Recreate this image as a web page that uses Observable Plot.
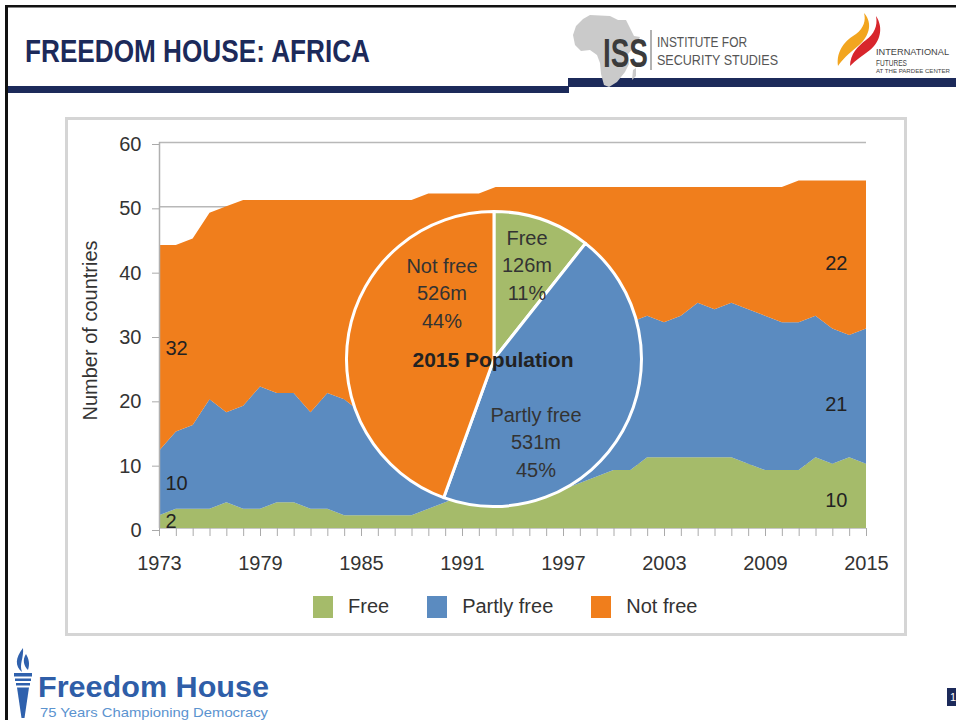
<!DOCTYPE html>
<html><head><meta charset="utf-8">
<script src="https://cdn.jsdelivr.net/npm/d3@7"></script>
<script src="https://cdn.jsdelivr.net/npm/@observablehq/plot@0.6"></script>
<style>
html,body{margin:0;padding:0;background:#fff;}
body{width:956px;height:720px;overflow:hidden;position:relative;font-family:"Liberation Sans",Arial,sans-serif;}
.abs{position:absolute;}
#panel{left:65px;top:117px;width:836px;height:513px;border:3px solid #d5d5d5;background:#fff;}
#chart{left:0;top:0;}
#legend{left:313px;top:590px;}
#legend .lg-swatches{margin:0 !important;font-size:20px !important;font-family:"Liberation Sans",Arial,sans-serif !important;color:#333;}
#legend .lg-swatch{margin-right:38px !important;}
#legend .lg-swatch > svg{margin-right:15px !important;}
</style></head><body>

<div class="abs" id="panel"></div>
<div class="abs" id="chart"></div>
<div class="abs" id="legend"></div>

<div class="abs" style="left:5px;top:5px;width:3px;height:715px;background:#111"></div>
<svg class="abs" style="left:0;top:0" width="956" height="110">
  <rect x="5" y="5" width="951" height="2.5" fill="#111"/>
  <text x="25" y="62" font-family="Liberation Sans, Arial, sans-serif" font-weight="bold" font-size="32" fill="#1c2a5a" textLength="345" lengthAdjust="spacingAndGlyphs">FREEDOM HOUSE: AFRICA</text>
  <rect x="8" y="86" width="561" height="7" fill="#1c2a5a"/>
  <rect x="568" y="78" width="388" height="9" fill="#1c2a5a"/>
  <!-- ISS logo -->
  <path d="M590,15 L610,16 L618,20 L626,20 L630,28 L634,36 L640,37 L636,45 L628,54 L629,64 L625,72 L617,82 L609,87 L604,85 L601,74 L600,63 L597,55 L590,50 L581,51 L575,45 L573,35 L576,26 L583,19 Z M633,70 L636,68 L636,76 L632,80 Z" fill="#cacaca"/>
  <text x="603" y="67" font-family="Liberation Sans, Arial, sans-serif" font-weight="bold" font-size="40" fill="#3b3b3b" textLength="45" lengthAdjust="spacingAndGlyphs">ISS</text>
  <line x1="651" y1="30" x2="651" y2="70" stroke="#999" stroke-width="1.5"/>
  <text x="657" y="47" font-family="Liberation Sans, Arial, sans-serif" font-size="15" fill="#555" textLength="90" lengthAdjust="spacingAndGlyphs">INSTITUTE FOR</text>
  <text x="657" y="64.5" font-family="Liberation Sans, Arial, sans-serif" font-size="15" fill="#555" textLength="121" lengthAdjust="spacingAndGlyphs">SECURITY STUDIES</text>
  <!-- IFs logo -->
  <path d="M838,66 C836,50 846,40 856,34 C864,28 866,20 864,13 C874,24 868,38 858,46 C848,54 842,60 838,66 Z" fill="#f2a51f"/>
  <path d="M850,66 C850,54 858,46 866,40 C874,34 878,26 876,16 C884,28 880,42 870,50 C862,56 856,60 850,66 Z" fill="#d8262c"/>
  <text x="876" y="55" font-family="Liberation Sans, Arial, sans-serif" font-size="9" fill="#444" textLength="73" lengthAdjust="spacingAndGlyphs">INTERNATIONAL</text>
  <text x="876" y="65.5" font-family="Liberation Sans, Arial, sans-serif" font-size="9" fill="#444" textLength="31" lengthAdjust="spacingAndGlyphs">FUTURES</text>
  <text x="876" y="73" font-family="Liberation Sans, Arial, sans-serif" font-size="5" fill="#444" textLength="74" lengthAdjust="spacingAndGlyphs">AT THE PARDEE CENTER</text>
</svg>

<svg class="abs" style="left:0;top:640px" width="956" height="80">
  <g transform="translate(0,-640)">
    <path d="M23,648 C15,658 15,666 22,672 C19,664 24,658 23,648 Z M26,654 C22,660 24,666 28,670 C30,664 29,659 26,654 Z" fill="#2f61ad"/>
    <rect x="14" y="673" width="18" height="3.5" fill="#2f61ad"/>
    <rect x="15" y="678.5" width="16" height="2.5" fill="#2f61ad"/>
    <rect x="16" y="683" width="14" height="2.5" fill="#2f61ad"/>
    <path d="M17,687.5 L29,687.5 L24.5,718 L21.5,718 Z" fill="#2f61ad"/>
    <text x="38" y="697" font-family="Liberation Sans, Arial, sans-serif" font-weight="bold" font-size="29" fill="#2f5ea8" textLength="231" lengthAdjust="spacingAndGlyphs">Freedom House</text>
    <text x="40" y="716.5" font-family="Liberation Sans, Arial, sans-serif" font-size="13" fill="#5b93cf" textLength="228" lengthAdjust="spacingAndGlyphs">75 Years Championing Democracy</text>
    <rect x="947" y="688" width="9" height="18" fill="#1c2a5a"/>
    <text x="950" y="701" font-family="Liberation Sans, Arial, sans-serif" font-size="11" fill="#fff">1</text>
  </g>
</svg>

<script>
// ---------------- data ----------------
const years = [1973,1974,1975,1976,1977,1978,1979,1980,1981,1982,1983,1984,1985,1986,1987,1988,1989,1990,1991,1992,1993,1994,1995,1996,1997,1998,1999,2000,2001,2002,2003,2004,2005,2006,2007,2008,2009,2010,2011,2012,2013,2014,2015];
const free =       [2,3,3,3,4,3,3,4,4,3,3,2,2,2,2,2,3,4,5,6,6,7,7,6,6,7,8,9,9,11,11,11,11,11,11,10,9,9,9,11,10,11,10];
const partlyFree = [10,12,13,17,14,16,19,17,17,15,18,18,16,16,15,15,14,14,17,20,21,22,21,22,22,22,22,23,23,22,21,22,24,23,24,24,24,23,23,22,21,19,21];
const notFree =    [32,29,29,29,32,32,29,30,30,33,30,31,33,33,34,34,35,34,30,26,26,24,25,25,25,24,23,21,21,20,21,20,18,19,18,19,20,21,22,21,23,24,23];
const statusNames = ["Free","Partly free","Not free"];
const statusColors = ["#a5bb6a","#5b8bc0","#f07e1c"];
const xTickLabels = [1973,1979,1985,1991,1997,2003,2009,2015];
const yTicks = [0,10,20,30,40,50,60];
const yAxisTitle = "Number of countries";
const startLabels = ["2","10","32"];
const endLabels = ["10","21","22"];
const pieNames = ["Free","Partly free","Not free"];
const pieValues = [126,531,526];
const pieValueText = ["126m","531m","526m"];
const piePercents = ["11%","45%","44%"];
const pieTitle = "2015 Population";

// ---------------- tables ----------------
const series = [free, partlyFree, notFree];
const rows = years.flatMap((yr,i) => statusNames.map((s,k) => ({year: yr, status: s, value: series[k][i]})));
function bandLabels(i, labels, frac) {
  let base = 0;
  return statusNames.map((s,k) => {
    const v = series[k][i];
    const o = {year: years[i], y: base + v*frac, text: labels[k]};
    base += v;
    return o;
  });
}
const startRows = bandLabels(0, startLabels, 0.5);
const endRows = bandLabels(years.length-1, endLabels, 0.44);

// ---------------- layout (pixels) ----------------
const pieLayout = {fx: 0.4738, fy: 0.5622, r: 147.5, lineGap: 27.5,
  blocks: [[33,-94],[42,83],[-52,-66]]};
const FONT = "Liberation Sans, Arial, sans-serif";

function pieMark(index, scales, values, dims) {
  const fw = dims.width - dims.marginLeft - dims.marginRight;
  const fh = dims.height - dims.marginTop - dims.marginBottom;
  const cx = dims.marginLeft + fw*pieLayout.fx;
  const cy = dims.marginTop + fh*pieLayout.fy;
  const arcs = d3.pie().sort(null)(pieValues);
  const arc = d3.arc().innerRadius(0).outerRadius(pieLayout.r);
  const g = d3.create("svg:g").attr("transform", `translate(${cx},${cy})`);
  g.selectAll("path").data(arcs).join("path")
    .attr("d", arc)
    .attr("fill", (d,i) => statusColors[statusNames.indexOf(pieNames[i])])
    .attr("stroke", "#fff").attr("stroke-width", 3).attr("stroke-linejoin", "round");
  pieNames.forEach((n,i) => {
    const [bx, by] = pieLayout.blocks[i];
    [n, pieValueText[i], piePercents[i]].forEach((t,j) => {
      g.append("text").attr("x", bx).attr("y", by + (j-1)*pieLayout.lineGap)
        .attr("text-anchor","middle").attr("dy","0.35em")
        .attr("font-family", FONT).attr("font-size", 20).attr("fill","#333").text(t);
    });
  });
  g.append("text").attr("x",-1).attr("y",1).attr("text-anchor","middle").attr("dy","0.35em")
    .attr("font-family", FONT).attr("font-size", 21).attr("font-weight","bold").attr("fill","#222").text(pieTitle);
  return g.node();
}

const chart = Plot.plot({
  width: 956, height: 600,
  marginLeft: 159, marginRight: 90, marginTop: 142, marginBottom: 72,
  style: {background: "none", fontFamily: FONT, fontSize: "20px", color: "#333"},
  x: {domain: [1973, 2015]},
  y: {domain: [0, 60]},
  color: {domain: statusNames, range: statusColors},
  marks: [
    Plot.gridY(yTicks.filter(v => v > 0), {stroke: "#b8b8b8", strokeOpacity: 1, strokeWidth: 1.5}),
    Plot.areaY(rows, {x: "year", y: "value", fill: "status", order: statusNames}),
    Plot.ruleY([0], {stroke: "#c8c8c8"}),
    Plot.ruleX([1973], {stroke: "#b0b0b0", strokeWidth: 1.5}),
    Plot.axisY({ticks: yTicks, tickSize: 7, tickPadding: 11, label: null, stroke: "#aaa", fill: "#333", fontSize: 20, dy: 2}),
    Plot.axisX({ticks: years, tickSize: 8, tickFormat: () => "", label: null, stroke: "#aaa"}),
    Plot.axisX({ticks: xTickLabels, tickSize: 0, tickPadding: 27, tickFormat: d => String(d), label: null, fill: "#333", fontSize: 20}),
    Plot.text(startRows, {x: "year", y: "y", text: "text", textAnchor: "start", dx: 6, fontSize: 20, fill: "#222"}),
    Plot.text(endRows, {x: "year", y: "y", text: "text", textAnchor: "end", dx: -19, fontSize: 20, fill: "#222"}),
    Plot.text([yAxisTitle], {frameAnchor: "left", text: d => d, textAnchor: "middle", rotate: -90, dx: -69, dy: -5, fontSize: 20, fill: "#333"}),
    pieMark
  ]
});
document.getElementById("chart").appendChild(chart);

const legend = Plot.legend({
  color: {domain: statusNames, range: statusColors},
  legend: "swatches", swatchWidth: 20, swatchHeight: 22, className: "lg"
});
document.getElementById("legend").appendChild(legend);
</script>
</body></html>
